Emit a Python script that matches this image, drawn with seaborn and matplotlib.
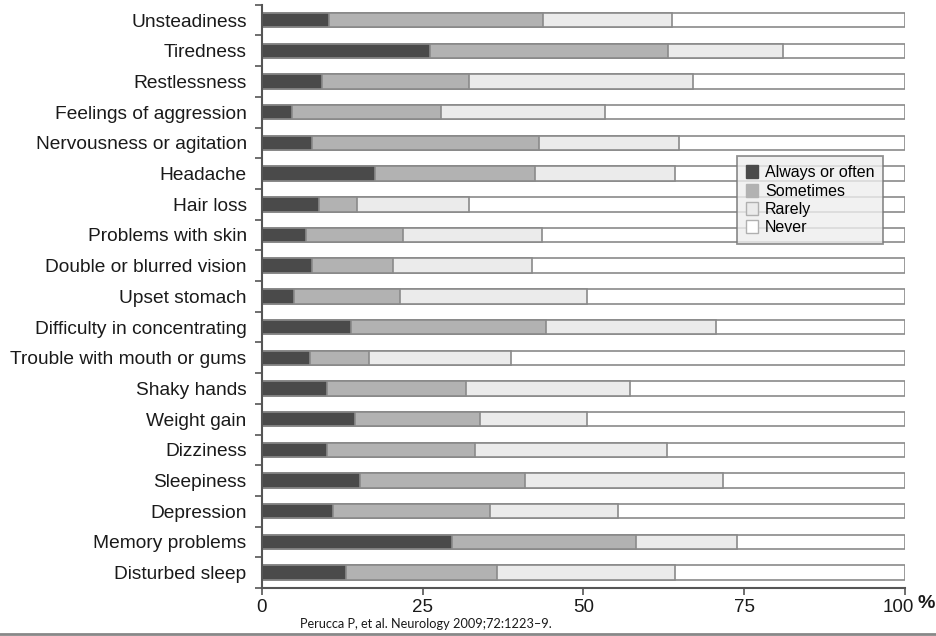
import numpy as np
import pandas as pd
import seaborn as sns
import matplotlib.pyplot as plt
import matplotlib.transforms as mtransforms
from matplotlib.patches import Patch
from matplotlib.lines import Line2D

# symptom categories, top to bottom
symptoms = ['Unsteadiness', 'Tiredness', 'Restlessness', 'Feelings of aggression',
            'Nervousness or agitation', 'Headache', 'Hair loss', 'Problems with skin',
            'Double or blurred vision', 'Upset stomach', 'Difficulty in concentrating',
            'Trouble with mouth or gums', 'Shaky hands', 'Weight gain', 'Dizziness',
            'Sleepiness', 'Depression', 'Memory problems', 'Disturbed sleep']

# percentage of patients per answer (never = rest up to 100)
always_often = [10.5, 26.2, 9.3, 4.7, 7.8, 17.5, 8.9, 6.8, 7.8, 5.0,
                13.8, 7.4, 10.1, 14.4, 10.1, 15.3, 11.0, 29.5, 13.1]
sometimes = [33.2, 36.9, 22.9, 23.2, 35.3, 25.0, 5.9, 15.1, 12.5, 16.5,
             30.4, 9.2, 21.6, 19.5, 23.1, 25.6, 24.4, 28.6, 23.5]
rarely = [20.0, 17.9, 34.8, 25.5, 21.7, 21.7, 17.4, 21.7, 21.7, 29.1,
          26.4, 22.2, 25.5, 16.7, 29.8, 30.8, 20.0, 15.8, 27.6]

answers = ['Always or often', 'Sometimes', 'Rarely', 'Never']
colors = ['#4a4a4a', '#b2b2b2', '#ebebeb', '#ffffff']
xtick_vals = [0, 25, 50, 75, 100]

df = pd.DataFrame({'symptom': symptoms, 'always': always_often,
                   'sometimes': sometimes, 'rarely': rarely})
df['never'] = 100 - df['always'] - df['sometimes'] - df['rarely']

# cumulative ends so the bars stack when drawn back to front
cum = df[['always', 'sometimes', 'rarely', 'never']].cumsum(axis=1)

plt.rcParams['font.family'] = ['Liberation Sans', 'DejaVu Sans']

fig = plt.figure(figsize=(9.37, 6.36), dpi=100)
ax = fig.add_axes([0.2796, 0.0755, 0.6862, 0.917])

for col, c in zip(['never', 'rarely', 'sometimes', 'always'], colors[::-1]):
    sns.barplot(x=cum[col], y=df['symptom'], orient='h', color=c,
                edgecolor='#8a8a8a', linewidth=1.2, width=0.47,
                saturation=1, ax=ax)

ax.set_xlim(0, 100)
ax.set_ylim(18.5, -0.5)
ax.set_xlabel('')
ax.set_ylabel('')
ax.set_xticks(xtick_vals)
ax.set_xticklabels([str(v) for v in xtick_vals])

# category separators on the y axis
ax.set_yticks(np.arange(-0.5, 19, 1), minor=True)
ax.tick_params(axis='y', which='major', length=0, pad=11, labelsize=13.8, labelcolor='#1a1a1a')
ax.tick_params(axis='y', which='minor', length=5, width=1.2, color='#555555')
ax.tick_params(axis='x', length=5, width=1.2, color='#555555', labelsize=13.5,
               labelcolor='#1a1a1a', pad=3)

# nudge the "100" label left to leave room for the % sign
last = ax.get_xticklabels()[-1]
last.set_transform(last.get_transform() +
                   mtransforms.ScaledTranslation(-7 / 100, 0, fig.dpi_scale_trans))

for s in ['top', 'right']:
    ax.spines[s].set_visible(False)
for s in ['left', 'bottom']:
    ax.spines[s].set_color('#555555')
    ax.spines[s].set_linewidth(1.5)

ax.text(1.02, -0.012, '%', transform=ax.transAxes, fontsize=14, fontweight='bold',
        ha='left', va='top', color='#1a1a1a')

handles = [Patch(facecolor=c, edgecolor='#b0b0b0' if i > 1 else c, label=a)
           for i, (a, c) in enumerate(zip(answers, colors))]
leg = ax.legend(handles=handles, loc='upper left', bbox_to_anchor=(0.739, 0.74),
                frameon=True, fancybox=False, shadow=False, fontsize=11.5,
                handlelength=0.75, handleheight=0.9, handletextpad=0.45,
                labelspacing=0.2, borderpad=0.55, borderaxespad=0)
leg.get_frame().set_facecolor('#eeeeee')
leg.get_frame().set_edgecolor('#777777')
leg.get_frame().set_linewidth(1.3)

fig.text(0.32, 0.019, 'Perucca P, et al. Neurology 2009;72:1223\u20139.',
         fontsize=9.2, family=['Lato', 'DejaVu Sans'], color='#1a1a1a', va='center')
fig.add_artist(Line2D([0, 1], [0.003, 0.003], transform=fig.transFigure,
                      color='#888888', linewidth=2))

fig.savefig('out.png', dpi=100)
